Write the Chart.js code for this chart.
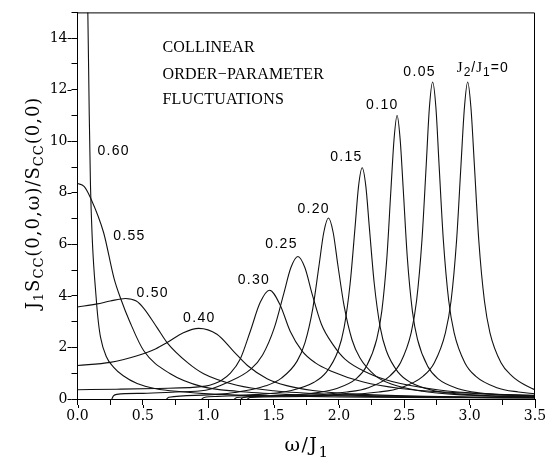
<!DOCTYPE html>
<html><head><meta charset="utf-8">
<script src="https://cdn.jsdelivr.net/npm/chart.js@4"></script>
<style>html,body{margin:0;padding:0;background:#fff}#wrap{width:559px;height:471px;position:relative}</style>
</head><body><div id="wrap"><canvas id="c"></canvas></div>
<script>
// ---- data (omega/J1, J1 Scc/Scc(0,0)) ----
const w0  = [1.30,1.32,1.6,1.965,2.305,2.475,2.645,2.73,2.815,2.858,2.90,2.934,2.96,2.985,3.01,3.036,3.07,3.113,3.155,3.24,3.325,3.42,3.5];
const s0  = [0,0.06,0.09,0.14,0.27,0.44,0.89,1.41,2.58,3.81,6.15,9.1,11.3,12.3,11.3,9.1,6.15,3.81,2.58,1.41,0.89,0.55,0.36];
const w05 = [1.25,1.27,1.733,2.061,2.225,2.389,2.471,2.553,2.594,2.635,2.668,2.692,2.717,2.742,2.766,2.799,2.84,2.881,2.963,3.045,3.209,3.373,3.5];
const s05 = [0,0.06,0.14,0.27,0.44,0.89,1.41,2.58,3.81,6.15,9.1,11.3,12.3,11.3,9.1,6.15,3.81,2.58,1.41,0.89,0.44,0.27,0.2];
const w10 = [1.2,1.22,1.509,1.821,1.977,2.133,2.211,2.289,2.328,2.367,2.398,2.422,2.445,2.468,2.492,2.523,2.562,2.601,2.679,2.757,2.913,3.069,3.381,3.5];
const s10 = [0,0.06,0.12,0.24,0.40,0.79,1.27,2.31,3.41,5.5,8.14,10.1,11.0,10.1,8.14,5.5,3.41,2.31,1.27,0.79,0.40,0.24,0.12,0.1];
const w15 = [0.95,0.97,1.074,1.442,1.626,1.81,1.902,1.994,2.04,2.086,2.123,2.15,2.178,2.206,2.233,2.27,2.316,2.362,2.454,2.546,2.73,2.914,3.282,3.5];
const s15 = [0,0.06,0.1,0.2,0.32,0.65,1.03,1.88,2.78,4.49,6.64,8.25,8.97,8.25,6.64,4.49,2.78,1.88,1.03,0.65,0.32,0.2,0.1,0.08];
const w20 = [0.68,0.70,0.96,1.2,1.44,1.56,1.68,1.74,1.8,1.848,1.884,1.92,1.956,1.992,2.04,2.1,2.16,2.28,2.4,2.64,2.88,3.2,3.5];
const s20 = [0,0.07,0.15,0.25,0.51,0.81,1.47,2.18,3.51,5.19,6.46,7.02,6.46,5.19,3.6,2.3,1.6,0.9,0.58,0.3,0.18,0.11,0.08];
const w25 = [0.262,0.275,0.30,0.5,0.75,0.98,1.146,1.326,1.416,1.506,1.578,1.632,1.686,1.74,1.794,1.866,1.956,2.046,2.226,2.406,2.766,3.126,3.5];
const s25 = [0,0.12,0.18,0.22,0.27,0.34,0.64,1.16,1.71,2.77,4.09,5.09,5.53,5.09,4.09,2.9,2.1,1.55,1.0,0.68,0.35,0.2,0.13];
const w30 = [0,0.3,0.6,0.98,1.05,1.1,1.17,1.245,1.32,1.398,1.469,1.55,1.627,1.717,1.82,1.933,2.187,2.47,2.8,3.2,3.5];
const s30 = [0.36,0.38,0.41,0.5,0.6,0.72,1.0,1.55,2.6,3.75,4.22,3.65,2.63,1.87,1.4,1.1,0.66,0.41,0.27,0.18,0.14];
const w40 = [0,0.25,0.456,0.6,0.685,0.81,0.927,1.067,1.194,1.3,1.45,1.6,1.8,2.1,2.5,3.0,3.5];
const s40 = [1.30,1.42,1.68,1.95,2.19,2.57,2.74,2.51,1.85,1.3,0.79,0.52,0.33,0.2,0.12,0.08,0.06];
const w50 = [0,0.15,0.25,0.367,0.45,0.507,0.61,0.685,0.84,0.965,1.22,1.5,2.0,2.5,3.0,3.5];
const s50 = [3.57,3.69,3.8,3.90,3.8,3.52,2.76,2.19,1.42,0.98,0.53,0.32,0.17,0.1,0.07,0.05];
const w55 = [0,0.05,0.1,0.2,0.28,0.33,0.4,0.507,0.71,0.96,1.22,1.6,2.0,2.5,3.0,3.5];
const s55 = [8.36,8.25,7.8,6.45,4.67,3.9,3.0,1.87,0.98,0.47,0.3,0.18,0.12,0.08,0.06,0.05];
const w60 = [0.07,0.079,0.09,0.099,0.112,0.125,0.137,0.155,0.176,0.22,0.277,0.35,0.456,0.6,0.8,1.0,1.5,2.0,2.5,3.0,3.5];
const s60 = [17,15,11,8.35,6.33,5.1,4.3,3.2,2.4,1.65,1.23,0.9,0.6,0.4,0.28,0.2,0.12,0.08,0.06,0.05,0.04];

const seriesNames = ['0','0.05','0.10','0.15','0.20','0.25','0.30','0.40','0.50','0.55','0.60'];
const seriesW = [w0,w05,w10,w15,w20,w25,w30,w40,w50,w55,w60];
const seriesS = [s0,s05,s10,s15,s20,s25,s30,s40,s50,s55,s60];

// curve labels (left edge, baseline) in data units
const labelText = ['0.60','0.55','0.50','0.40','0.30','0.25','0.20','0.15','0.10','0.05'];
const labelX    = [0.153,0.273,0.451,0.808,1.225,1.437,1.683,1.933,2.208,2.493];
const labelY    = [9.45,6.18,3.96,2.97,4.46,5.87,7.2,9.23,11.25,12.54];
const zeroLabelPos = [2.902, 12.7];
const noteLines = ['COLLINEAR','ORDER\u2212PARAMETER','FLUCTUATIONS'];
const noteX = 0.65;
const noteY = [13.46, 12.43, 11.44];

const xTickLabels = ['0.0','0.5','1.0','1.5','2.0','2.5','3.0','3.5'];
const yTickLabels = ['0','2','4','6','8','10','12','14'];

const datasets = seriesW.map((w,i)=>({
  label: 'J2/J1=' + seriesNames[i],
  data: w.map((x,j)=>({x:x, y:seriesS[i][j]})),
  borderColor:'#111', borderWidth:1.1, pointRadius:0, fill:false,
  cubicInterpolationMode:'monotone'
}));

function drawParts(ctx, parts, x, y, centered){
  let total = 0;
  parts.forEach(p=>{ ctx.font = p.font; ctx.letterSpacing = p.ls||'0px'; p.w = ctx.measureText(p.t).width; total += p.w; });
  let cx = centered ? x - total/2 : x;
  parts.forEach(p=>{ ctx.font = p.font; ctx.letterSpacing = p.ls||'0px'; ctx.fillText(p.t, cx, y + (p.dy||0)); cx += p.w; });
}

const decor = {
  id:'decor',
  afterDraw(chart){
    const ctx = chart.ctx, a = chart.chartArea, xs = chart.scales.x, ys = chart.scales.y;
    ctx.save();
    ctx.strokeStyle = '#000'; ctx.lineWidth = 1;
    ctx.beginPath();
    ctx.moveTo(a.left, a.top+0.5); ctx.lineTo(a.right-0.5, a.top+0.5); ctx.lineTo(a.right-0.5, a.bottom);
    // longer major ticks
    for (let i=0;i<yTickLabels.length;i++){ const py = Math.round(ys.getPixelForValue(Number(yTickLabels[i])))+0.5; ctx.moveTo(a.left-6, py); ctx.lineTo(a.left-10, py); }
    for (let i=0;i<xTickLabels.length;i++){ const px = Math.round(xs.getPixelForValue(Number(xTickLabels[i])))+0.5; ctx.moveTo(px, a.bottom+6); ctx.lineTo(px, a.bottom+9); }
    ctx.stroke();
    ctx.fillStyle = '#000'; ctx.textBaseline = 'alphabetic'; ctx.textAlign = 'left';
    // curve labels
    ctx.font = '14px "Liberation Sans"'; ctx.letterSpacing = '1.3px';
    labelText.forEach((t,i)=>{ ctx.fillText(t, xs.getPixelForValue(labelX[i]), ys.getPixelForValue(labelY[i])); });
    drawParts(ctx, [
      {t:'J', font:'15px "Liberation Serif"', ls:'1px'},
      {t:'2', font:'12px "Liberation Sans"', dy:4, ls:'1px'},
      {t:'/', font:'14px "Liberation Sans"', ls:'1px'},
      {t:'J', font:'15px "Liberation Serif"', ls:'1px'},
      {t:'1', font:'12px "Liberation Sans"', dy:4, ls:'1px'},
      {t:'=0', font:'14px "Liberation Sans"', ls:'1px'}
    ], xs.getPixelForValue(zeroLabelPos[0]), ys.getPixelForValue(zeroLabelPos[1]), false);
    // note text
    ctx.font = '16px "Liberation Serif"'; ctx.letterSpacing = '0.2px';
    noteLines.forEach((t,i)=>{ ctx.fillText(t, xs.getPixelForValue(noteX), ys.getPixelForValue(noteY[i])); });
    // x title
    drawParts(ctx, [
      {t:'\u03c9/J', font:'19px "DejaVu Serif"', ls:'1.5px'},
      {t:'1', font:'15px "DejaVu Serif"', dy:6}
    ], (a.left+a.right)/2, 451, true);
    // y title (rotated)
    ctx.translate(39, 203); ctx.rotate(-Math.PI/2);
    const M = '18px "DejaVu Serif"', S = '13px "DejaVu Serif"';
    drawParts(ctx, [
      {t:'J', font:M, ls:'1px'}, {t:'1', font:S, dy:4, ls:'1px'},
      {t:'S', font:M, ls:'1px'}, {t:'CC', font:S, dy:4, ls:'1px'},
      {t:'(0,0,\u03c9)/', font:M, ls:'1px'},
      {t:'S', font:M, ls:'1px'}, {t:'CC', font:S, dy:4, ls:'1px'},
      {t:'(0,0)', font:M, ls:'1px'}
    ], 0, 0, true);
    ctx.restore();
  }
};

new Chart(document.getElementById('c'), {
  type:'line',
  data:{datasets},
  options:{
    responsive:true, maintainAspectRatio:false, animation:false, devicePixelRatio:1,
    layout:{padding:{left:0, top:5, right:24, bottom:0}},
    plugins:{legend:{display:false}, tooltip:{enabled:false}},
    scales:{
      x:{type:'linear', min:0, max:3.5,
        afterFit:(s)=>{ s.height = 72; },
        border:{display:true, color:'#000', width:1},
        grid:{drawOnChartArea:false, drawTicks:true, tickLength:6, color:'#000'},
        ticks:{stepSize:0.25, autoSkip:false, maxRotation:0, padding:3, color:'#000',
          font:{family:'DejaVu Serif', size:14},
          callback:(v)=>{ const k = v*2; return Math.abs(k-Math.round(k))<1e-9 ? xTickLabels[Math.round(k)] : ''; }},
        title:{display:false}},
      y:{type:'linear', min:0, max:15,
        afterFit:(s)=>{ s.width = 77.5; },
        border:{display:true, color:'#000', width:1},
        grid:{drawOnChartArea:false, drawTicks:true, tickLength:6, color:'#000'},
        ticks:{stepSize:1, autoSkip:false, padding:4, color:'#000',
          font:{family:'DejaVu Serif', size:14},
          callback:(v)=>{ return (v%2===0 && v<=14) ? yTickLabels[v/2] : ''; }},
        title:{display:false}}
    }
  },
  plugins:[decor]
});
</script></body></html>
